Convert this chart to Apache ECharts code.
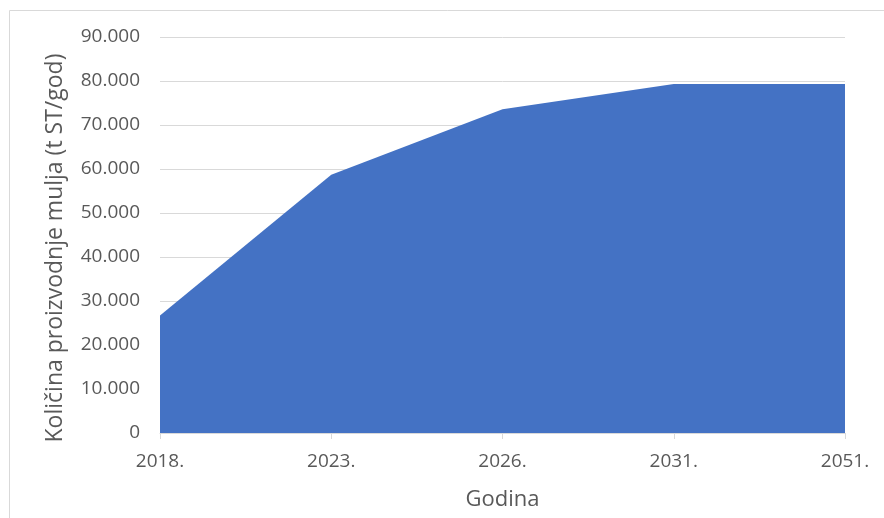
<!DOCTYPE html>
<html>
<head>
<meta charset="utf-8">
<script src="https://cdn.jsdelivr.net/npm/echarts@6/dist/echarts.min.js"></script>
<style>
html, body { margin: 0; padding: 0; background: #fff; }
#chart { width: 884px; height: 518px; }
</style>
</head>
<body>
<div id="chart"></div>
<script>
// podaci
var godine = ['2018.', '2023.', '2026.', '2031.', '2051.'];
var kolicinaMulja = [26700, 58700, 73600, 79300, 79300];
var yTicks = [0, 10000, 20000, 30000, 40000, 50000, 60000, 70000, 80000, 90000];

function fmt(v) {
    // tisuce odvojene tockom
    return String(v).replace(/\B(?=(\d{3})+(?!\d))/g, '.');
}

var myChart = echarts.init(document.getElementById('chart'));

var option = {
    animation: false,
    textStyle: { fontFamily: 'Open Sans' },
    graphic: [{
        type: 'rect',
        shape: { x: 9.5, y: 10.5, width: 900, height: 600 },
        style: { fill: null, stroke: '#d9d9d9', lineWidth: 1 },
        silent: true
    }],
    grid: { left: 160, right: 39, top: 37, bottom: 85, containLabel: false, outerBoundsMode: 'none' },
    xAxis: {
        type: 'category',
        data: godine,
        boundaryGap: false,
        name: 'Godina',
        nameLocation: 'middle',
        nameGap: 56,
        nameTextStyle: { color: '#595959', fontSize: 22 },
        axisLine: { lineStyle: { color: '#d9d9d9', width: 1 } },
        axisTick: { show: true, length: 6, lineStyle: { color: '#d9d9d9' } },
        axisLabel: { color: '#595959', fontSize: 19, margin: 19 }
    },
    yAxis: {
        type: 'value',
        min: yTicks[0],
        max: yTicks[yTicks.length - 1],
        interval: yTicks[1] - yTicks[0],
        name: 'Količina proizvodnje mulja (t ST/god)',
        nameLocation: 'middle',
        nameGap: 93,
        nameTextStyle: { color: '#595959', fontSize: 23, padding: [0, 26, 0, 0] },
        axisLine: { show: false },
        axisTick: { show: false },
        splitLine: { lineStyle: { color: '#d9d9d9', width: 1 } },
        axisLabel: { color: '#595959', fontSize: 19, margin: 20, formatter: fmt }
    },
    series: [{
        type: 'line',
        data: kolicinaMulja,
        symbol: 'none',
        lineStyle: { width: 0 },
        itemStyle: { color: '#4472C4' },
        areaStyle: { color: '#4472C4', opacity: 1 }
    }]
};
myChart.setOption(option);
</script>
</body>
</html>
